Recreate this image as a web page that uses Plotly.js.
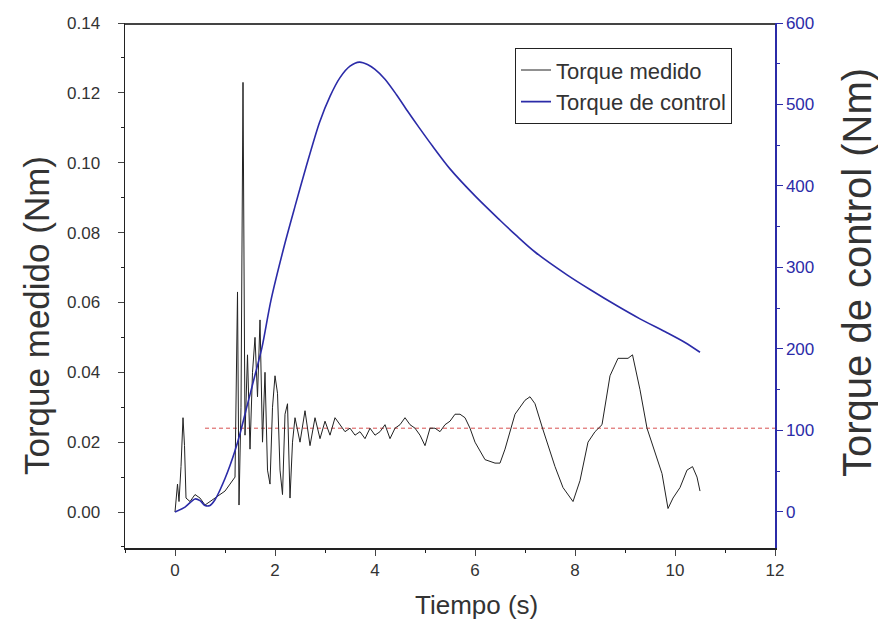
<!DOCTYPE html>
<html>
<head>
<meta charset="utf-8">
<script src="https://cdn.plot.ly/plotly-3.0.1.min.js"></script>
<style>html,body{margin:0;padding:0;background:#fff;}#chart{width:878px;height:631px;}</style>
</head>
<body>
<div id="chart"></div>
<script>
// Measured torque (Nm), left axis
const tMedido = [0,0.05,0.08,0.12,0.16,0.19,0.22,0.3,0.4,0.5,0.6,0.7,0.8,0.9,1.0,1.1,1.2,1.25,1.28,1.32,1.36,1.40,1.45,1.50,1.55,1.60,1.65,1.70,1.75,1.80,1.85,1.90,1.95,2.00,2.05,2.10,2.15,2.20,2.25,2.30,2.35,2.4,2.5,2.6,2.7,2.8,2.9,3.0,3.1,3.2,3.3,3.4,3.5,3.6,3.7,3.8,3.9,4.0,4.1,4.2,4.3,4.4,4.5,4.6,4.7,4.8,4.9,5.0,5.1,5.2,5.3,5.4,5.5,5.6,5.7,5.8,5.9,6.0,6.2,6.4,6.5,6.6,6.8,7.0,7.1,7.2,7.35,7.5,7.6,7.76,7.9,7.96,8.1,8.26,8.4,8.54,8.7,8.86,9.0,9.06,9.15,9.3,9.44,9.6,9.74,9.86,9.96,10.1,10.24,10.35,10.44,10.5];
const vMedido = [0.000,0.008,0.003,0.013,0.027,0.019,0.004,0.003,0.005,0.004,0.002,0.003,0.004,0.005,0.006,0.008,0.010,0.063,0.002,0.030,0.123,0.022,0.045,0.018,0.040,0.050,0.033,0.055,0.020,0.040,0.012,0.008,0.030,0.039,0.034,0.012,0.005,0.028,0.031,0.004,0.020,0.027,0.020,0.029,0.019,0.027,0.021,0.026,0.022,0.027,0.025,0.023,0.024,0.022,0.023,0.021,0.024,0.022,0.023,0.025,0.021,0.024,0.025,0.027,0.025,0.024,0.022,0.019,0.024,0.024,0.023,0.025,0.026,0.028,0.028,0.027,0.024,0.020,0.015,0.014,0.014,0.018,0.028,0.032,0.033,0.031,0.024,0.017,0.013,0.007,0.004,0.003,0.009,0.020,0.023,0.025,0.039,0.044,0.044,0.044,0.045,0.035,0.024,0.017,0.011,0.001,0.004,0.007,0.012,0.013,0.010,0.006];

// Control torque (Nm), right axis
const tControl = [0,0.2,0.4,0.5,0.6,0.7,0.8,0.9,1.0,1.1,1.2,1.3,1.42,1.6,1.74,1.92,2.2,2.4,2.62,2.89,3.1,3.3,3.5,3.69,3.85,4.0,4.2,4.43,4.65,4.89,5.15,5.5,6.03,6.5,6.83,7.2,7.84,8.3,8.84,9.3,9.84,10.2,10.5];
const vControl = [0,6,16,14,8,8,15,27,41,57,75,96,125,168,202,260,330,375,423,478,510,533,547,552,549,543,531,512,492,471,449,421,386,358,339,319,291,273,253,237,220,208,196];

// Reference level (left axis)
const tRef = [0.6, 12];
const vRef = [0.024, 0.024];

// Text
const xTitle = 'Tiempo (s)';
const yTitle = 'Torque medido (Nm)';
const y2Title = 'Torque de control (Nm)';

const font = "Liberation Sans, Arial, sans-serif";

const data = [
  {x: tRef, y: vRef, type: 'scatter', mode: 'lines', showlegend: false,
   line: {color: '#d85050', width: 1, dash: '4px,3px'}, hoverinfo: 'skip'},
  {x: tMedido, y: vMedido, type: 'scatter', mode: 'lines', name: 'Torque medido',
   line: {color: '#222222', width: 1}},
  {x: tControl, y: vControl, type: 'scatter', mode: 'lines', name: 'Torque de control',
   yaxis: 'y2', line: {color: '#2b2ba8', width: 1.6, shape: 'spline', smoothing: 0.8}}
];

const layout = {
  width: 878, height: 631,
  margin: {l: 125, r: 103, t: 23, b: 83},
  paper_bgcolor: '#fff', plot_bgcolor: '#fff',
  font: {family: font, color: '#333'},
  showlegend: true,
  legend: {x: 0.6, y: 0.952, xanchor: 'left', yanchor: 'top',
    bordercolor: '#222', borderwidth: 1, bgcolor: '#fff',
    font: {size: 22, color: '#333'}, tracegroupgap: 0, itemwidth: 30},
  xaxis: {
    range: [-1, 12], tickvals: [0,2,4,6,8,10,12], ticks: 'outside', ticklen: 6,
    minor: {dtick: 1, tick0: 0, ticks: 'outside', ticklen: 3, tickcolor: '#222'},
    showline: true, linecolor: '#222', linewidth: 1.5,
    showgrid: false, zeroline: false, tickfont: {size: 17, color: '#333'}
  },
  yaxis: {
    range: [-0.0103, 0.14], tickvals: [0,0.02,0.04,0.06,0.08,0.10,0.12,0.14], tickformat: '.2f',
    ticks: 'outside', ticklen: 6, ticklabelstandoff: 14,
    minor: {dtick: 0.01, tick0: 0, ticks: 'outside', ticklen: 3, tickcolor: '#222'},
    showline: true, linecolor: '#222', linewidth: 1.5,
    showgrid: false, zeroline: false, tickfont: {size: 17, color: '#333'}
  },
  yaxis2: {
    overlaying: 'y', side: 'right',
    range: [-44.2, 600], tickvals: [0,100,200,300,400,500,600],
    ticks: 'outside', ticklen: 6, tickcolor: '#2b2ba8',
    minor: {dtick: 50, tick0: 0, ticks: 'outside', ticklen: 3, tickcolor: '#2b2ba8'},
    showline: true, linecolor: '#2b2ba8', linewidth: 1.5,
    showgrid: false, zeroline: false, tickfont: {size: 17, color: '#2b2ba8'}
  },
  shapes: [
    {type: 'line', xref: 'paper', yref: 'paper', x0: 0, x1: 1, y0: 0.998, y1: 0.998,
     layer: 'above', line: {color: '#444', width: 2}}
  ],
  annotations: [
    {text: xTitle, xref: 'paper', yref: 'paper', x: (476-125)/650, y: -(605-548)/525,
     xanchor: 'center', yanchor: 'middle', showarrow: false, font: {size: 26, color: '#333'}},
    {text: yTitle, xref: 'paper', yref: 'paper', x: -(125-36)/650, y: (548-316)/525,
     xanchor: 'center', yanchor: 'middle', textangle: -90, showarrow: false, font: {size: 35, color: '#333'}},
    {text: y2Title, xref: 'paper', yref: 'paper', x: 1 + (857-775)/650, y: (548-272)/525,
     xanchor: 'center', yanchor: 'middle', textangle: -90, showarrow: false, font: {size: 40, color: '#333'}}
  ]
};

Plotly.newPlot('chart', data, layout, {displayModeBar: false, staticPlot: true});
</script>
</body>
</html>
